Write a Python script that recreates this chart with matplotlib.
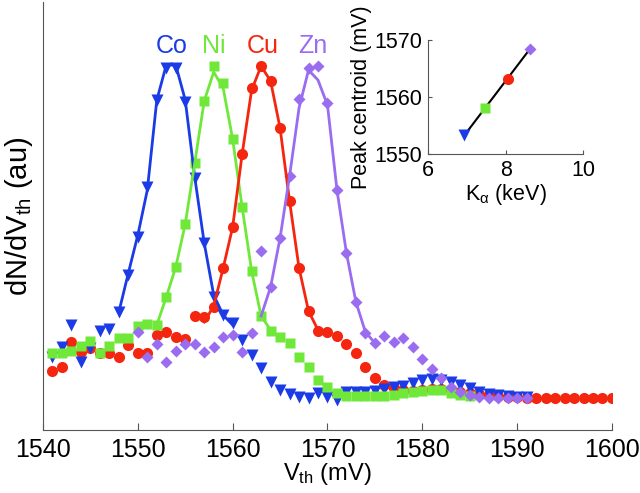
import numpy as np
import matplotlib
matplotlib.use("Agg")
import matplotlib.pyplot as plt

plt.rcParams['font.family'] = ['Liberation Sans', 'DejaVu Sans']
plt.rcParams['mathtext.fontset'] = 'custom'
plt.rcParams['mathtext.rm'] = 'Liberation Sans'
plt.rcParams['mathtext.it'] = 'Liberation Sans:italic'

# colours
c_co = '#1a3be6'
c_ni = '#6fe83a'
c_cu = '#f5260f'
c_zn = '#9a6cf0'

# spectra, dN/dV_th in arbitrary units, 1 mV steps
co_v = np.arange(1541, 1592)
co = [73, 83, 105, 68, 82, 99, 101, 118, 155, 193, 243, 330, 362, 362, 328, 252,
      187, 133, 115, 107, 90, 75, 62, 48, 40, 36, 33, 32, 37, 33, 30, 38, 38, 38,
      39, 41, 43, 44, 47, 50, 51, 50, 48, 45, 42, 38, 36, 35, 34, 33, 33]
co_fit_v = np.arange(1548, 1561)
co_fit = [118, 157, 195, 240, 330, 365, 365, 330, 253, 187, 135, 115, 105]

ni_v = np.arange(1541, 1586)
ni = [77, 77, 79, 84, 89, 77, 84, 92, 92, 104, 106, 105, 133, 163, 206, 267, 329,
      364, 347, 291, 223, 159, 114, 99, 93, 87, 73, 63, 50, 43, 37, 34, 34, 34,
      34, 34, 35, 37, 38, 39, 40, 40, 37, 35, 34]
ni_fit_v = np.arange(1552, 1565)
ni_fit = [105, 133, 163, 206, 267, 329, 358, 342, 291, 223, 159, 114, 100]

cu_v = np.arange(1541, 1601)
cu = [59, 63, 88, 78, 82, 77, 77, 73, 85, 77, 77, 95, 98, 93, 91, 114, 113, 123,
      162, 203, 276, 342, 364, 349, 302, 229, 162, 119, 99, 98, 94, 86, 77, 63,
      52, 45, 42, 40, 39, 40, 41, 41, 40, 38, 37, 36, 35, 34, 33, 33, 32, 32, 32,
      32, 32, 32, 32, 32, 32, 32]
cu_fit_v = np.arange(1557, 1571)
cu_fit = [108, 124, 162, 203, 276, 340, 364, 349, 302, 229, 162, 119, 100, 95]

zn_v = np.arange(1550, 1592)
zn = [98, 73, 86, 68, 79, 86, 86, 78, 83, 93, 95, 78, 97, 179, 143, 192, 254,
      331, 362, 364, 327, 240, 177, 128, 97, 87, 94, 88, 92, 83, 71, 61, 52, 43,
      38, 35, 33, 32, 32, 32, 32, 32]
zn_fit_v = np.arange(1563, 1576)
zn_fit = [114, 143, 192, 254, 322, 360, 350, 325, 240, 177, 128, 98, 87]

# inset: K-alpha energy vs peak centroid
k_alpha = [6.93, 7.48, 8.05, 8.63]
centroid = [1553.3, 1558.1, 1563.2, 1568.5]

fig = plt.figure(figsize=(6.4, 4.93), dpi=100)
ax = fig.add_axes([0.0672, 0.1278, 0.889, 0.868])

ax.plot(cu_v, cu, 'o', color=c_cu, ms=8, mec='none', zorder=2)
ax.plot(co_v, co, 'v', color=c_co, ms=9, mec='none', zorder=3)
ax.plot(ni_v, ni, 's', color=c_ni, ms=6.5, mec='none', zorder=4)
ax.plot(zn_v, zn, 'D', color=c_zn, ms=6, mec='none', zorder=5)

ax.plot(co_fit_v, co_fit, '-', color=c_co, lw=2, zorder=6)
ax.plot(ni_fit_v, ni_fit, '-', color=c_ni, lw=2, zorder=6)
ax.plot(cu_fit_v, cu_fit, '-', color=c_cu, lw=2, zorder=6)
ax.plot(zn_fit_v, zn_fit, '-', color=c_zn, lw=2, zorder=6)

for name, x, col in [('Co', 1553.6, c_co), ('Ni', 1558.0, c_ni),
                     ('Cu', 1563.2, c_cu), ('Zn', 1568.5, c_zn)]:
    ax.text(x, 384, name, color=col, fontsize=18, ha='center', va='center')

ax.set_xlim(1540, 1600)
ax.set_ylim(0, 428)
ax.set_xticks(np.arange(1540, 1601, 10))
ax.set_yticks([])
ax.tick_params(axis='x', direction='in', length=5, labelsize=18, pad=6,
               color='#555555')
for s in ['top', 'right']:
    ax.spines[s].set_visible(False)
for s in ['left', 'bottom']:
    ax.spines[s].set_color('#555555')
ax.set_xlabel('V$_{\\rm th}$ (mV)', fontsize=17, labelpad=-1)
ax.set_ylabel('dN/dV$_{\\rm th}$ (au)', fontsize=21, labelpad=6)

# inset
ins = fig.add_axes([0.669, 0.6876, 0.242, 0.2312])
ins.patch.set_alpha(0)
p = np.polyfit(k_alpha, centroid, 1)
kx = np.array([k_alpha[0], k_alpha[-1]])
ins.plot(kx, np.polyval(p, kx), '-', color='black', lw=1.5)
ins.plot(k_alpha[0], centroid[0], 'v', color=c_co, ms=9, mec='none')
ins.plot(k_alpha[1], centroid[1], 's', color=c_ni, ms=7, mec='none')
ins.plot(k_alpha[2], centroid[2], 'o', color=c_cu, ms=8, mec='none')
ins.plot(k_alpha[3], centroid[3], 'D', color=c_zn, ms=6, mec='none')
ins.set_xlim(6, 10)
ins.set_ylim(1550, 1570)
ins.set_xticks([6, 8, 10])
ins.set_yticks([1550, 1560, 1570])
ins.tick_params(direction='in', length=3, labelsize=15.5, pad=4, color='#555555')
for s in ['top', 'right']:
    ins.spines[s].set_visible(False)
for s in ['left', 'bottom']:
    ins.spines[s].set_color('#555555')
ins.set_xlabel('K$_{\\mathrm{α}}$ (keV)', fontsize=15.5, labelpad=1)
ins.set_ylabel('Peak centroid (mV)', fontsize=15.5, labelpad=2)

fig.savefig('out.png', dpi=100)
